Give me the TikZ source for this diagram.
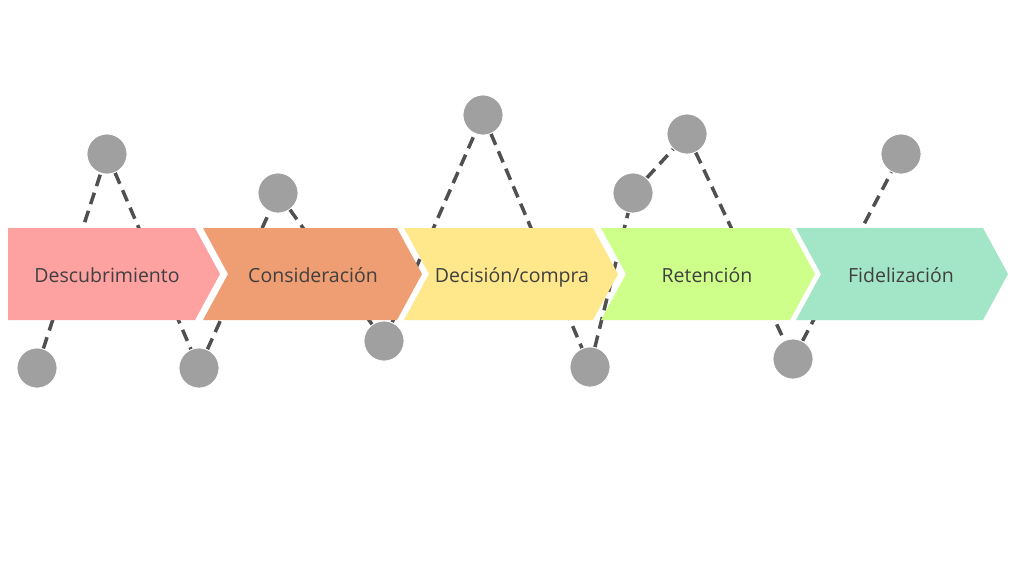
\documentclass[tikz,border=0pt]{standalone}
\usepackage{fontspec}
\setmainfont{Open Sans}
\definecolor{cpink}{RGB}{254,161,161}
\definecolor{corange}{RGB}{239,157,114}
\definecolor{cyellow}{RGB}{255,231,140}
\definecolor{cgreen}{RGB}{206,255,138}
\definecolor{cteal}{RGB}{163,229,199}
\definecolor{dotgray}{RGB}{160,160,160}
\definecolor{dashgray}{RGB}{80,80,80}
\definecolor{txtgray}{RGB}{64,64,64}
\pgfdeclarelayer{bg}
\pgfdeclarelayer{mid}
\pgfsetlayers{bg,mid,main}
\tikzset{
  dot/.style={circle, fill=dotgray, draw=white, line width=0.8pt, minimum size=40pt, inner sep=0pt},
  link/.style={draw=dashgray, line width=3.5pt, dash pattern=on 12pt off 7pt},
  label/.style={font=\fontsize{19.5}{22}\selectfont, text=txtgray, anchor=base, inner sep=0pt},
}
\begin{document}
\begin{tikzpicture}[x=1pt,y=-1pt]
\useasboundingbox (0,0) rectangle (1024,576);
% circles
\node[dot] (c1) at (37,368) {};
\node[dot] (c2) at (107,154) {};
\node[dot] (c3) at (199,368) {};
\node[dot] (c4) at (278,193) {};
\node[dot] (c5) at (384,341) {};
\node[dot] (c6) at (483,115) {};
\node[dot] (c7) at (590,367) {};
\node[dot] (c8) at (633,193) {};
\node[dot] (c9) at (687,134) {};
\node[dot] (c10) at (793,359) {};
\node[dot] (c11) at (901,154) {};
\begin{pgfonlayer}{bg}
\fill[white] (0,0) rectangle (1024,576);
\draw[link] (c1) -- (c2) -- (c3) -- (c4) -- (c5) -- (c6) -- (c7) -- (c8) -- (c9) -- (c10) -- (c11);
\end{pgfonlayer}
\begin{pgfonlayer}{mid}
\fill[cpink] (8,228) -- (195,228) -- (220,274) -- (195,320) -- (8,320) -- cycle;
\fill[corange] (203,228) -- (397,228) -- (422,274) -- (397,320) -- (203,320) -- (228,274) -- cycle;
\fill[cyellow] (404,228) -- (593,228) -- (618,274) -- (593,320) -- (404,320) -- (429,274) -- cycle;
\fill[cgreen] (601,228) -- (790,228) -- (815,274) -- (790,320) -- (601,320) -- (626,274) -- cycle;
\fill[cteal] (796,228) -- (983,228) -- (1008,274) -- (983,320) -- (796,320) -- (821,274) -- cycle;
\node[label] (t1) at (107,282) {Descubrimiento};
\node[label] (t2) at (313,282) {Consideración};
\node[label] (t3) at (512,282) {Decisión/compra};
\node[label] (t4) at (707,282) {Retención};
\node[label] (t5) at (901,282) {Fidelización};
\end{pgfonlayer}
\end{tikzpicture}
\end{document}
